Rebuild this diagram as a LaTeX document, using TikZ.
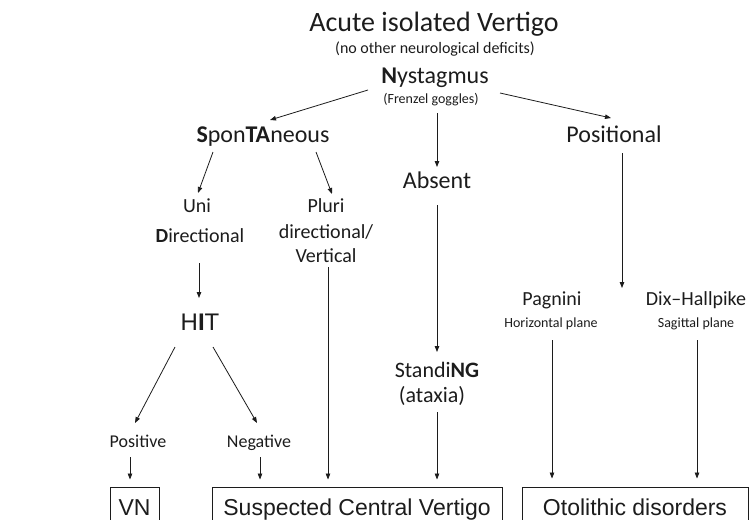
\documentclass[tikz,border=0pt]{standalone}
\usepackage{fontspec}
\setmainfont{Carlito}
\newfontfamily\arialf{Liberation Sans}
\usetikzlibrary{arrows.meta,calc}
\definecolor{ink}{HTML}{1C1C1C}
\newcommand{\fs}[1]{\fontsize{#1}{#1}\selectfont}
\tikzset{
 lbl/.style={anchor=base,inner sep=0pt,text=ink},
 arr/.style={draw=ink,line width=0.8pt,-{Triangle[length=6pt,width=4.5pt]}},
 outbox/.style={draw=ink,line width=0.9pt,anchor=base,text height=17pt,text depth=5pt,inner ysep=11pt,inner xsep=0pt,font=\arialf\fs{23},text=ink},
}
\begin{document}
\begin{tikzpicture}[x=1pt,y=-1pt]
\useasboundingbox (0,0) rectangle (749,519);
\clip (0,0) rectangle (749,519);
% labels
\node[lbl,font=\fs{28}] (title) at (434,32) {Acute isolated Vertigo};
\node[lbl,font=\fs{16}] (sub) at (435,54) {(no other neurological deficits)};
\node[lbl,font=\fs{24}] (nyst) at (435,83) {\textbf{N}ystagmus};
\node[lbl,font=\fs{14}] (frenzel) at (431,103) {(Frenzel goggles)};
\node[lbl,font=\fs{24}] (spont) at (263,142) {\textbf{S}pon\textbf{TA}neous};
\node[lbl,font=\fs{24}] (absent) at (437,188) {Absent};
\node[lbl,font=\fs{24}] (positional) at (614,142) {Positional};
\node[lbl,font=\fs{20}] (uni) at (197,212) {Uni};
\node[lbl,font=\fs{20}] (dir) at (200,242) {\textbf{D}irectional};
\node[lbl,font=\fs{20}] (pluri) at (326,212) {Pluri};
\node[lbl,font=\fs{20}] (pdir) at (326,238) {directional/};
\node[lbl,font=\fs{20}] (vert) at (326,262) {Vertical};
\node[lbl,font=\arialf\fs{24}] (hit) at (200,330) {H\textbf{I}T};
\node[lbl,font=\fs{18}] (pos) at (138,447) {Positive};
\node[lbl,font=\fs{18}] (neg) at (259,447) {Negative};
\node[lbl,font=\fs{22}] (stand) at (437,377) {Standi\textbf{NG}};
\node[lbl,font=\fs{22}] (ataxia) at (432,402) {(ataxia)};
\node[lbl,font=\fs{20}] (pag) at (552,305) {Pagnini};
\node[lbl,font=\fs{20}] (dix) at (696,305) {Dix--Hallpike};
\node[lbl,font=\fs{14}] (hp) at (551,327) {Horizontal plane};
\node[lbl,font=\fs{14}] (sp) at (696,327) {Sagittal plane};
% boxes
\node[outbox,minimum width=49pt] (vn) at (134.5,515) {VN};
\node[outbox,minimum width=290pt] (central) at (357,515) {Suspected Central Vertigo};
\node[outbox,minimum width=226pt] (oto) at (635,515) {Otolithic disorders};
% connectors
\draw[arr] ([shift={(-67,7)}]nyst.base) -- ([shift={(7,-22)}]spont.base);
\draw[arr] ([shift={(65,10)}]nyst.base) -- ([shift={(-3,-24)}]positional.base);
\draw[arr] ([shift={(6,10)}]frenzel.base) -- ([shift={(0,-21)}]absent.base);
\draw[arr] ([shift={(-50,10)}]spont.base) -- ([shift={(1,-19)}]uni.base);
\draw[arr] ([shift={(53,10)}]spont.base) -- ([shift={(6,-18)}]pluri.base);
\draw[arr] ([shift={(-1,21)}]dir.base) -- ([shift={(-1,-32)}]hit.base);
\draw[arr] ([shift={(2,5)}]vert.base) -- ([shift={(-29,-7)}]central.north);
\draw[arr] ([shift={(0,17)}]absent.base) -- ([shift={(0,-25)}]stand.base);
\draw[arr] ([shift={(5,10)}]ataxia.base) -- ([shift={(80,-7)}]central.north);
\draw[arr] ([shift={(-25,17)}]hit.base) -- ([shift={(-3,-24)}]pos.base);
\draw[arr] ([shift={(13,17)}]hit.base) -- ([shift={(-2,-24)}]neg.base);
\draw[arr] ([shift={(-8,10)}]pos.base) -- ([shift={(-4.5,-7)}]vn.north);
\draw[arr] ([shift={(1,10)}]neg.base) -- ([shift={(-97,-7)}]central.north);
\draw[arr] ([shift={(8,11)}]positional.base) -- ([shift={(70,-17)}]pag.base);
\draw[arr] ([shift={(1,13)}]hp.base) -- ([shift={(-83,-8)}]oto.north);
\draw[arr] ([shift={(1,13)}]sp.base) -- ([shift={(62,-8)}]oto.north);
\end{tikzpicture}
\end{document}
